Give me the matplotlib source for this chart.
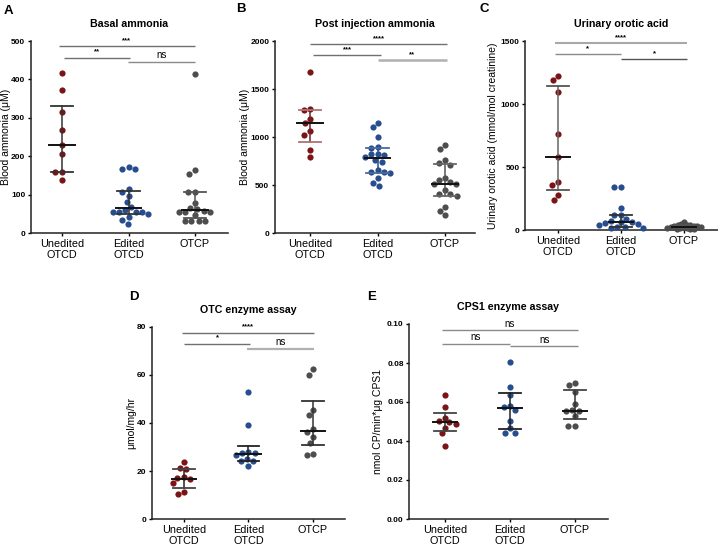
import matplotlib
matplotlib.use("Agg")
import matplotlib.pyplot as plt
import matplotlib.transforms as mtransforms
import numpy as np

plt.rcParams['font.family'] = ['Liberation Sans', 'DejaVu Sans']

groups = ["Unedited\nOTCD", "Edited\nOTCD", "OTCP"]

# A - basal ammonia (uM)
basal_unedited = [416, 373, 316, 269, 230, 206, 158, 158, 139]
basal_edited = [172, 166, 166, 114, 107, 97, 81, 68, 61, 55, 55, 55, 55, 49, 41, 35, 24]
basal_otcp = [415, 163, 154, 106, 106, 78, 66, 62, 58, 55, 55, 55, 46, 32, 32, 32, 32]
basal_median = [230, 65, 59]
basal_low = [158, 50, 39]
basal_high = [332, 110, 106]

# B - post injection ammonia (uM)
post_unedited = [1673, 1291, 1277, 1190, 1149, 1058, 1023, 868, 791]
post_edited = [1150, 1105, 1005, 895, 890, 825, 820, 815, 790, 760, 740, 660, 640, 635,
               620, 575, 525, 490]
post_otcp = [913, 871, 757, 729, 711, 576, 548, 531, 507, 507, 444, 409, 402, 382, 271, 229, 184]
post_median = [1149, 784, 507]
post_low = [947, 625, 382]
post_high = [1284, 885, 722]

# C - urinary orotic acid (mmol/mol creatinine)
orotic_unedited = [1222, 1191, 1093, 762, 582, 384, 357, 278, 238]
orotic_edited = [345, 340, 175, 120, 120, 90, 75, 65, 60, 55, 45, 40, 25, 20, 15, 12]
orotic_otcp = [62, 45, 42, 40, 38, 35, 30, 28, 25, 22, 20, 18, 15, 12, 10, 8, 5]
orotic_median = [582, 65, 25]
orotic_low = [315, 20, 12]
orotic_high = [1140, 120, 38]

# D - OTC enzyme assay (umol/mg/hr)
otc_unedited = [23.6, 21.4, 20.8, 17.3, 17.1, 16.8, 15.0, 11.2, 10.5]
otc_edited = [53.0, 39.0, 27.9, 27.6, 27.5, 26.8, 25.2, 24.1, 24.0, 22.1]
otc_otcp = [62.3, 60.0, 45.6, 43.5, 37.5, 36.2, 34.2, 31.8, 27.2, 26.5]
otc_median = [16.8, 27.0, 36.8]
otc_low = [12.9, 24.1, 30.8]
otc_high = [21.0, 30.6, 49.2]

# E - CPS1 enzyme assay
cps_unedited = [0.0635, 0.0575, 0.0520, 0.0503, 0.0495, 0.0485, 0.0468, 0.0439, 0.0375]
cps_edited = [0.0805, 0.0677, 0.0635, 0.0580, 0.0573, 0.0558, 0.0502, 0.0466, 0.0442, 0.0442]
cps_otcp = [0.0695, 0.0689, 0.0652, 0.0592, 0.0561, 0.0555, 0.0553, 0.0527, 0.0478, 0.0478]
cps_median = [0.0495, 0.0567, 0.0553]
cps_low = [0.0452, 0.0459, 0.0514]
cps_high = [0.0544, 0.0647, 0.0664]

dot_colors = ["#7a1417", "#284d8f", "#4d4d4d"]

W, H = 718, 546
fig = plt.figure(figsize=(W / 100, H / 100), dpi=100)


def make_axes(c0, c2, top, bottom, xlo=-0.5, xhi=2.5):
    s = (c2 - c0) / 2.0
    left = c0 + xlo * s
    right = c0 + xhi * s
    ax = fig.add_axes([left / W, 1 - bottom / H, (right - left) / W, (bottom - top) / H])
    ax.set_xlim(xlo, xhi)
    return ax


def swarm(vals, ax, diam=6.6):
    # simple beeswarm in pixel space, returns x offsets in category units
    bb = ax.get_window_extent()
    y0, y1 = ax.get_ylim()
    x0, x1 = ax.get_xlim()
    py = bb.height / (y1 - y0)
    px = bb.width / (x1 - x0)
    ys = np.array(vals) * py
    order = np.argsort(-ys)
    placed = []
    xs = np.zeros(len(vals))
    for i in order:
        cands = [0.0]
        for (xj, yj) in placed:
            dy = ys[i] - yj
            if abs(dy) < diam:
                dx = np.sqrt(diam ** 2 - dy ** 2)
                cands += [xj + dx, xj - dx]
        cands.sort(key=lambda c: (abs(c), c))
        for c in cands:
            ok = True
            for (xj, yj) in placed:
                if (c - xj) ** 2 + (ys[i] - yj) ** 2 < diam ** 2 - 1e-6:
                    ok = False
                    break
            if ok:
                xs[i] = c
                break
        placed.append((xs[i], ys[i]))
    return xs / px


def panel(ax, data, med, low, high, ymax, yticks, fmt, ylabel, ylabel_px, title, letter,
          letter_xy, bars, stem_colors, cap_colors, spacing=(6.6, 6.6, 6.6)):
    ax.set_ylim(0, ymax)
    ax.set_yticks(yticks)
    ax.set_yticklabels([fmt.format(t) for t in yticks], fontsize=6, fontweight='bold')
    ax.set_xticks([0, 1, 2])
    ax.set_xticklabels(groups, fontsize=7.8, linespacing=1.05)
    for sp in ['top', 'right']:
        ax.spines[sp].set_visible(False)
    for sp in ['left', 'bottom']:
        ax.spines[sp].set_linewidth(1.1)
        ax.spines[sp].set_color('#222222')
    ax.tick_params(axis='y', length=2.5, width=1, pad=1.5)
    ax.tick_params(axis='x', length=2.5, width=1, pad=2)
    ax.set_ylabel(ylabel, fontsize=7.5)
    tr = mtransforms.blended_transform_factory(fig.transFigure, ax.transAxes)
    ax.yaxis.set_label_coords(ylabel_px / W, 0.5, transform=tr)
    ax.set_title(title, fontsize=7.7, fontweight='bold', pad=10)
    fig.text(letter_xy[0] / W, 1 - letter_xy[1] / H, letter, fontsize=9.5,
             fontweight='bold', va='center', ha='left')
    for k, vals in enumerate(data):
        offs = swarm(vals, ax, diam=spacing[k])
        ax.scatter(k + offs, vals, s=20, color=dot_colors[k], linewidths=0,
                   zorder=3, clip_on=False)
        ax.plot([k, k], [low[k], high[k]], color=stem_colors[k], lw=1.1, zorder=4)
        for v in (low[k], high[k]):
            ax.plot([k - 0.17, k + 0.17], [v, v], color=cap_colors[k], lw=1.3, zorder=4)
        ax.plot([k - 0.19, k + 0.19], [med[k], med[k]], color='#111111', lw=1.4, zorder=5)
    for (xa, xb, yv, lab, col, lw) in bars:
        ax.plot([xa, xb], [yv, yv], color=col, lw=lw, clip_on=False, solid_capstyle='butt')
        if lab == 'ns':
            ax.annotate(lab, ((xa + xb) / 2, yv), xytext=(0, 1), textcoords='offset points',
                        ha='center', va='bottom', fontsize=7)
        else:
            ax.annotate(lab, ((xa + xb) / 2, yv), xytext=(0, 1.5), textcoords='offset points',
                        ha='center', va='bottom', fontsize=5.5, fontweight='bold')


ax_a = make_axes(62, 195, 41, 233, xlo=-0.47)
panel(ax_a, [basal_unedited, basal_edited, basal_otcp], basal_median, basal_low, basal_high,
      500, [0, 100, 200, 300, 400, 500], "{:d}", "Blood ammonia (\u03bcM)", 11,
      "Basal ammonia", "A", (4, 11),
      [(-0.05, 2.0, 487, '***', '#707070', 1.0),
       (0.03, 1.03, 457, '**', '#707070', 1.0),
       (0.99, 2.0, 446, 'ns', '#8a8a8a', 1.0)],
      ['#333333', '#333333', '#555555'], ['#333333', '#333333', '#555555'])

ax_b = make_axes(310, 445, 41, 233, xlo=-0.52, xhi=2.45)
panel(ax_b, [post_unedited, post_edited, post_otcp], post_median, post_low, post_high,
      2000, [0, 500, 1000, 1500, 2000], "{:d}", "Blood ammonia (\u03bcM)", 250,
      "Post injection ammonia", "B", (236, 9),
      [(0.0, 2.03, 1964, '****', '#707070', 1.0),
       (0.05, 1.05, 1850, '***', '#707070', 1.0),
       (1.0, 2.03, 1797, '**', '#b0b0b0', 1.8)],
      ['#6e2424', '#2a4d8f', '#555555'], ['#b07272', '#4a6aa0', '#666666'])

ax_c = make_axes(558, 684, 41, 230, xlo=-0.52, xhi=2.54)
panel(ax_c, [orotic_unedited, orotic_edited, orotic_otcp], orotic_median, orotic_low, orotic_high,
      1500, [0, 500, 1000, 1500], "{:d}", "Urinary orotic acid (mmol/mol creatinine)", 498,
      "Urinary orotic acid", "C", (479, 9),
      [(-0.05, 2.05, 1482, '****', '#a8a8a8', 1.5),
       (-0.05, 1.0, 1397, '*', '#8a8a8a', 1.0),
       (1.0, 2.05, 1355, '*', '#555555', 1.0)],
      ['#666666', '#333333', '#555555'], ['#555555', '#333333', '#555555'],
      spacing=(6.6, 6.6, 3.6))

ax_d = make_axes(184, 313, 327, 519)
panel(ax_d, [otc_unedited, otc_edited, otc_otcp], otc_median, otc_low, otc_high,
      80, [0, 20, 40, 60, 80], "{:d}", "\u03bcmol/mg/hr", 136, "OTC enzyme assay", "D", (129, 297),
      [(-0.03, 2.02, 77.7, '****', '#707070', 1.0),
       (0.0, 1.03, 73.1, '*', '#707070', 1.0),
       (0.98, 2.02, 71.0, 'ns', '#b0b0b0', 1.6)],
      ['#222222', '#222222', '#333333'], ['#444444', '#222222', '#333333'])

ax_e = make_axes(445, 575, 324, 519, xlo=-0.55)
panel(ax_e, [cps_unedited, cps_edited, cps_otcp], cps_median, cps_low, cps_high,
      0.10, [0.0, 0.02, 0.04, 0.06, 0.08, 0.10], "{:.2f}", "nmol CP/min*\u03bcg CPS1", 383,
      "CPS1 enzyme assay", "E", (367, 297),
      [(-0.05, 2.05, 0.0968, 'ns', '#8a8a8a', 1.0),
       (-0.05, 1.0, 0.0899, 'ns', '#8a8a8a', 1.0),
       (1.0, 2.05, 0.0887, 'ns', '#8a8a8a', 1.0)],
      ['#333333', '#222222', '#333333'], ['#444444', '#222222', '#444444'])

fig.savefig("out.png", dpi=100)
